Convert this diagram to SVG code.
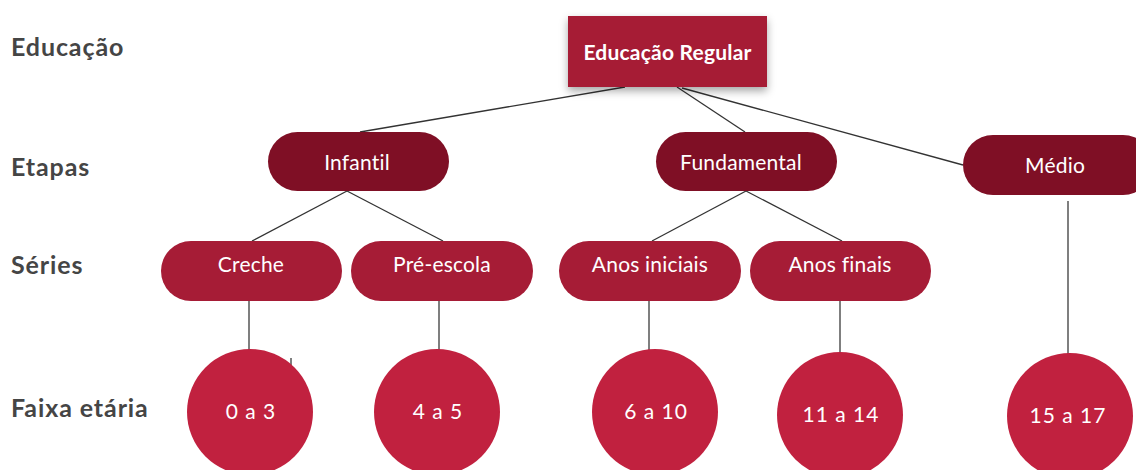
<svg xmlns="http://www.w3.org/2000/svg" width="1136" height="470" viewBox="0 0 1136 470">
<style>
.lbl{font-family:Lato,"Liberation Sans",sans-serif;font-weight:bold;font-size:25px;letter-spacing:0.9px;fill:#454545}
.t{font-family:Lato,"Liberation Sans",sans-serif;font-size:21px;letter-spacing:0.2px;fill:#fff;text-anchor:middle}
.n{font-family:Lato,"Liberation Sans",sans-serif;font-size:21px;letter-spacing:1px;fill:#fff;text-anchor:middle}
.tb{font-family:Lato,"Liberation Sans",sans-serif;font-size:21px;font-weight:bold;letter-spacing:0.2px;fill:#fff;text-anchor:middle}
.etapa{fill:#7F0F25}
.serie{fill:#A61C36}
.faixa{fill:#C1213F}
.root{fill:#A61C36}
.c{stroke:#333;stroke-width:1.3;fill:none}
.v{stroke:#555;stroke-width:1.5;fill:none}
</style>
<defs>
<filter id="sh" x="-20%" y="-30%" width="140%" height="170%">
<feDropShadow dx="0" dy="4" stdDeviation="4" flood-color="#000" flood-opacity="0.35"/>
</filter>
</defs>
<rect width="1136" height="470" fill="#fff"/>
<g id="labels">
<text class="lbl" x="11" y="56">Educação</text>
<text class="lbl" x="11" y="176">Etapas</text>
<text class="lbl" x="11" y="274">Séries</text>
<text class="lbl" x="11" y="417">Faixa etária</text>
</g>
<g id="connectors">
<line class="c" x1="625" y1="87" x2="360" y2="132"/>
<line class="c" x1="677" y1="87" x2="745" y2="132"/>
<line class="c" x1="682" y1="88" x2="963" y2="165"/>
<line class="c" x1="347" y1="191" x2="252" y2="241"/>
<line class="c" x1="347" y1="191" x2="443" y2="241"/>
<line class="c" x1="746" y1="191" x2="652" y2="241"/>
<line class="c" x1="746" y1="191" x2="842" y2="241"/>
<line class="v" x1="249" y1="300" x2="249" y2="350"/>
<line class="v" x1="439" y1="300" x2="439" y2="350"/>
<line class="v" x1="649" y1="300" x2="649" y2="350"/>
<line class="v" x1="840" y1="300" x2="840" y2="352"/>
<line class="v" x1="1068" y1="201" x2="1068" y2="354"/>
<line class="v" x1="291" y1="358" x2="291" y2="366"/>
</g>
<g id="root">
<rect class="root" x="568" y="16" width="199" height="71" filter="url(#sh)"/>
<text class="tb" x="667.5" y="60">Educação Regular</text>
</g>
<g id="infantil">
<rect class="etapa" x="268" y="132" width="181" height="59" rx="29.5"/>
<text class="t" x="357" y="170">Infantil</text>
</g>
<g id="fundamental">
<rect class="etapa" x="656" y="132" width="181" height="59" rx="29.5"/>
<text class="t" x="741" y="170">Fundamental</text>
</g>
<g id="medio">
<rect class="etapa" x="963" y="135" width="190" height="60" rx="30"/>
<text class="t" x="1055" y="173">Médio</text>
</g>
<g id="creche">
<rect class="serie" x="161" y="241" width="181" height="60" rx="30"/>
<text class="t" x="251" y="272">Creche</text>
</g>
<g id="pre-escola">
<rect class="serie" x="351" y="241" width="182" height="60" rx="30"/>
<text class="t" x="442" y="272">Pré-escola</text>
</g>
<g id="anos-iniciais">
<rect class="serie" x="559" y="241" width="182" height="60" rx="30"/>
<text class="t" x="650" y="272">Anos iniciais</text>
</g>
<g id="anos-finais">
<rect class="serie" x="750" y="241" width="181" height="60" rx="30"/>
<text class="t" x="840" y="272">Anos finais</text>
</g>
<g id="f0a3">
<circle class="faixa" cx="250" cy="412" r="63"/>
<text class="n" x="251" y="419">0 a 3</text>
</g>
<g id="f4a5">
<circle class="faixa" cx="437" cy="412" r="63"/>
<text class="n" x="438" y="419">4 a 5</text>
</g>
<g id="f6a10">
<circle class="faixa" cx="655" cy="412" r="63"/>
<text class="n" x="656" y="419">6 a 10</text>
</g>
<g id="f11a14">
<circle class="faixa" cx="840" cy="415" r="63"/>
<text class="n" x="841" y="422">11 a 14</text>
</g>
<g id="f15a17">
<circle class="faixa" cx="1070" cy="416" r="63"/>
<text class="n" x="1068" y="423">15 a 17</text>
</g>
</svg>
